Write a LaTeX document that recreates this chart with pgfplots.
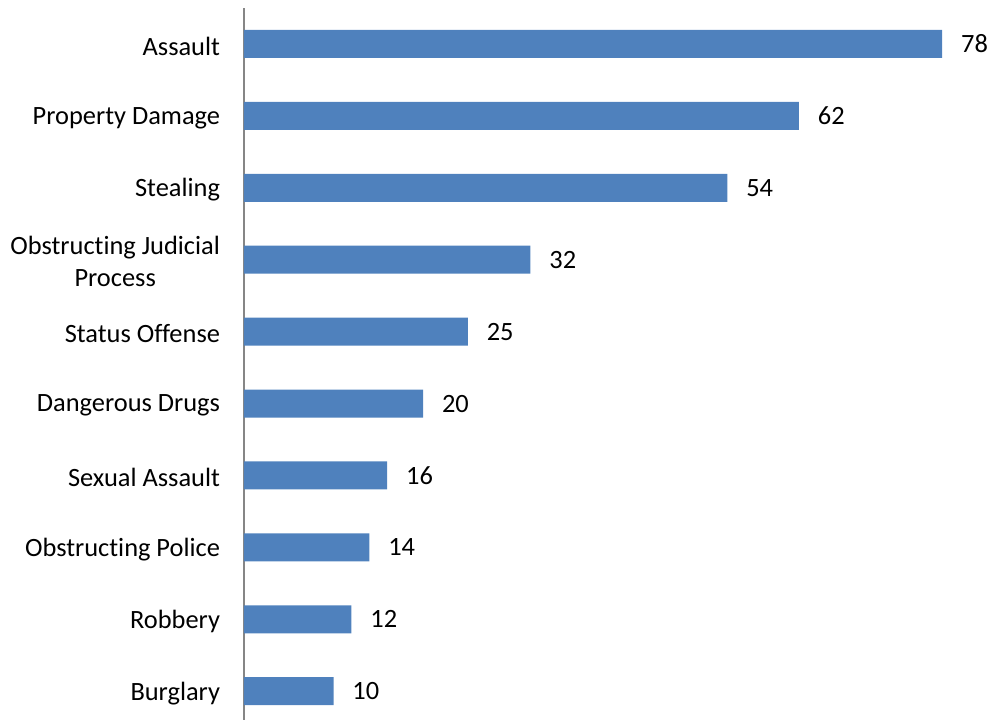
\documentclass[border=0pt]{standalone}
\usepackage{pgfplots}
\pgfplotsset{compat=1.18}
\usepackage{fontspec}
\setmainfont{Carlito}[Ligatures=NoCommon]
\definecolor{barblue}{RGB}{79,129,189}
\definecolor{axisgray}{RGB}{134,134,134}
\begin{document}
\fontsize{26.5}{32}\selectfont
\begin{tikzpicture}
\begin{axis}[
    xbar,
    scale only axis,
    width=746bp, height=712bp,
    xmin=0, xmax=83.35,
    ymin=-0.4, ymax=9.5,
    bar width=28bp,
    axis x line=none,
    axis y line*=left,
    y axis line style={axisgray, line width=1.2pt, -},
    ytick={0,...,9},
    yticklabels={Burglary,Robbery,Obstructing Police,Sexual Assault,Dangerous Drugs,Status Offense,{Obstructing Judicial\\Process},Stealing,Property Damage,Assault},
    yticklabel style={align=center, font=\fontsize{26.5}{32}\selectfont, xshift=-15bp, yshift=-2bp},
    major tick length=0pt,
    nodes near coords,
    nodes near coords style={anchor=west, xshift=10bp, font=\fontsize{26.5}{32}\selectfont, black},
    /pgf/number format/assume math mode=true,
    clip=false,
]
\addplot[fill=barblue, draw=none] coordinates {
    (10,0) (12,1) (14,2) (16,3) (20,4) (25,5) (32,6) (54,7) (62,8) (78,9)
};
\coordinate (bl) at (rel axis cs:0,0);
\coordinate (tr) at (rel axis cs:1,1);
\end{axis}
\pgfresetboundingbox
\path[use as bounding box] ([xshift=-244bp,yshift=-5bp]bl) rectangle ([yshift=8bp]tr);
\end{tikzpicture}
\end{document}
